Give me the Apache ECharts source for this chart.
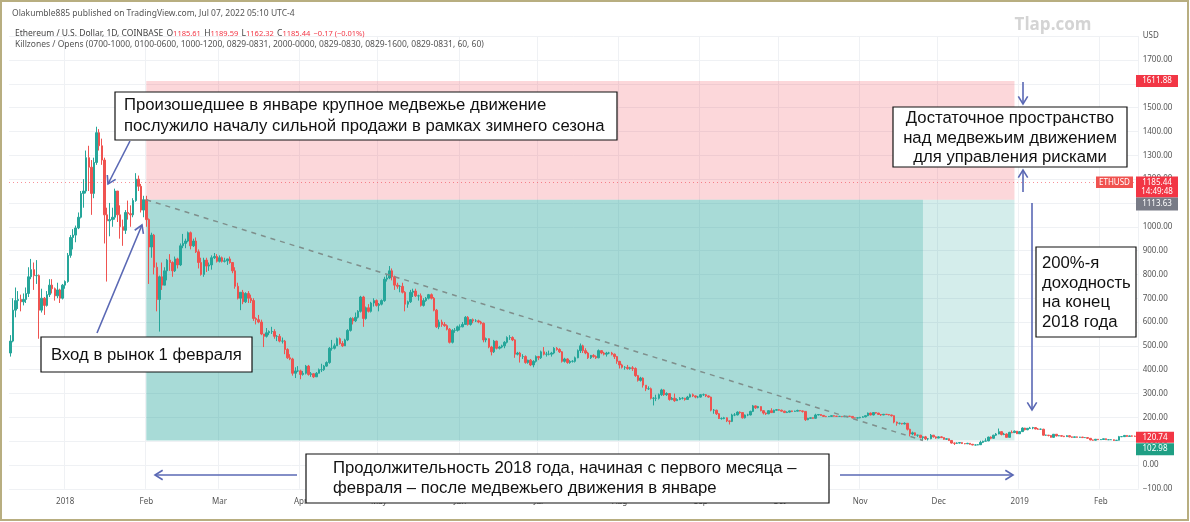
<!DOCTYPE html>
<html><head><meta charset="utf-8">
<script src="https://cdn.jsdelivr.net/npm/echarts@6/dist/echarts.min.js"></script>
<style>html,body{margin:0;padding:0;background:#fff}#c{width:1190px;height:522px}</style>
</head><body><div id="c"></div>
<script>
// ETH/USD daily candles, [open, close, low, high]
const startDate = [2017, 11, 11]; // 11 Dec 2017
const dec2017 = [[470,520,455,545],[520,650,515,700],[650,690,620,745],[690,695,655,730],[695,685,645,715],[685,695,670,720],[695,720,680,745],[720,790,705,830],[790,820,780,865],[820,795,735,850],[795,795,760,860],[795,650,530,800],[650,700,640,740],[700,670,630,705],[670,715,665,730],[715,755,705,780],[755,740,720,780],[740,710,690,745],[710,735,700,765],[735,700,680,740],[700,755,695,760]];
const jan2018 = [[755,770,740,775],[770,880,765,890],[880,955,870,965],[955,965,905,990],[965,995,935,1005],[995,1040,990,1060],[1040,1140,1035,1150],[1140,1150,1080,1200],[1150,1290,1140,1320],[1290,1250,1150,1340],[1250,1140,1050,1280],[1140,1270,1120,1290],[1270,1395,1260,1420],[1395,1340,1320,1410],[1340,1280,1260,1370],[1280,1050,930,1290],[1050,1025,770,1080],[1025,1030,960,1100],[1030,1040,1000,1080],[1040,1150,1030,1160],[1150,1050,1020,1150],[1050,1000,950,1090],[1000,985,920,1030],[985,1060,970,1070],[1060,1055,1030,1110],[1055,1050,1000,1090],[1050,1110,1040,1120],[1110,1200,1105,1225],[1200,1170,1150,1215],[1170,1070,1060,1180],[1070,1113.63,1040,1130]];
const feb2018 = [[1113.63,1030,1000,1130],[1030,915,760,1035],[915,965,870,975],[965,830,800,970],[830,695,645,850],[695,790,560,795],[790,755,735,850],[755,815,755,830],[815,860,775,865],[860,850,815,885],[850,815,790,855],[815,865,810,875],[865,840,825,870],[840,920,835,930],[920,930,910,970],[930,940,910,950],[940,975,935,980],[975,920,905,980],[920,940,915,950],[940,895,890,955],[895,850,825,905],[850,800,795,870],[800,860,790,870],[860,835,810,870],[835,840,815,850],[840,870,820,880],[870,875,865,890],[875,855,850,885]];
const mar2018 = [[855,870,850,880],[870,855,850,875],[855,857,850,870],[857,865,840,866],[865,850,845,875],[850,815,805,850],[815,750,740,830],[750,700,695,765],[700,725,650,725],[725,685,675,735],[685,720,680,725],[720,700,680,730],[700,690,680,715],[690,615,605,700],[615,610,590,620],[610,600,595,630],[600,550,545,610],[550,540,495,550],[540,555,535,575],[555,560,545,565],[560,560,550,580],[560,540,530,570],[540,540,520,545],[540,520,515,550],[520,520,510,535],[520,485,465,525],[485,450,445,490],[450,445,440,465],[445,385,375,450],[385,395,365,410],[395,395,390,415]];
const apr2018 = [[395,380,360,400],[380,385,375,395],[385,415,380,420],[415,380,375,420],[380,383,370,390],[383,370,365,385],[370,385,370,390],[385,400,385,405],[400,400,390,425],[400,415,395,420],[415,430,412,435],[430,490,425,495],[490,490,480,525],[490,500,485,510],[500,530,500,535],[530,510,505,535],[510,500,495,520],[500,525,500,530],[525,565,520,570],[565,615,560,620],[615,605,590,620],[605,620,600,640],[620,645,615,650],[645,705,640,710],[705,615,580,710],[615,660,610,665],[660,645,640,675],[645,680,640,685],[680,690,665,700],[690,670,665,695]];
const may2018 = [[670,675,645,680],[675,690,670,695],[690,780,685,790],[780,785,770,800],[785,815,780,835],[815,790,775,825],[790,755,735,795],[755,750,740,765],[750,750,725,755],[750,725,720,765],[725,675,645,730],[675,685,660,690],[685,725,680,735],[725,730,705,740],[730,710,705,740],[710,710,690,715],[710,670,665,720],[670,690,665,700],[690,700,685,705],[700,715,695,718],[715,700,695,720],[700,650,645,705],[650,580,575,655],[580,600,570,610],[600,590,580,610],[590,585,580,600],[585,570,565,590],[570,515,510,575],[515,565,510,570],[565,565,555,575],[565,580,560,585]];
const jun2018 = [[580,580,565,590],[580,590,578,600],[590,620,588,625],[620,590,585,625],[590,610,585,612],[610,605,595,615],[605,605,600,612],[605,600,595,610],[600,595,590,605],[595,525,515,598],[525,530,515,535],[530,495,490,532],[495,475,460,500],[475,520,470,525],[520,490,485,522],[490,495,485,500],[495,500,490,505],[500,515,490,520],[515,535,510,540],[535,535,525,545],[535,525,520,540],[525,465,450,528],[465,470,460,475],[470,455,430,475],[455,455,445,465],[455,430,425,460],[430,440,425,442],[440,420,415,445],[420,435,410,440],[435,455,430,460]];
const jul2018 = [[455,450,440,458],[450,475,445,480],[475,465,460,495],[465,465,455,475],[465,465,460,480],[465,470,455,475],[470,490,465,495],[490,485,480,495],[485,475,470,490],[475,435,430,478],[435,445,430,450],[445,430,425,448],[430,435,425,440],[435,435,430,440],[435,450,430,455],[450,480,448,485],[480,500,470,510],[500,480,470,505],[480,470,465,490],[470,450,445,475],[450,460,445,462],[460,455,450,465],[455,450,445,460],[450,480,448,485],[480,470,465,482],[470,465,460,475],[465,470,455,475],[470,470,465,475],[470,465,460,475],[465,455,445,468],[455,435,425,458]];
const aug2018 = [[435,420,405,437],[420,410,405,425],[410,410,400,415],[410,405,400,420],[405,408,400,412],[408,405,395,415],[405,375,370,410],[375,355,350,378],[355,365,350,370],[365,335,325,368],[335,320,310,335],[320,320,315,330],[320,280,275,325],[280,280,250,285],[280,280,268,295],[280,295,275,300],[295,315,290,320],[315,295,290,318],[295,300,290,305],[300,275,270,302],[275,280,272,285],[280,270,265,300],[270,275,270,280],[275,280,272,285],[280,280,275,285],[280,275,270,282],[275,285,275,290],[285,295,283,300],[295,290,285,300],[290,285,280,292],[285,285,280,290]];
const sep2018 = [[285,295,283,298],[295,295,290,300],[295,290,285,298],[290,285,282,292],[285,230,225,287],[230,230,215,235],[230,215,210,232],[215,195,193,218],[195,195,190,200],[195,198,192,202],[198,185,180,200],[185,183,170,187],[183,210,180,215],[210,210,205,218],[210,222,208,225],[222,220,215,225],[220,198,195,222],[198,210,195,212],[210,210,205,215],[210,225,208,228],[225,248,222,252],[248,240,235,250],[240,245,238,248],[245,228,225,246],[228,218,212,230],[218,215,210,220],[215,228,213,230],[228,220,218,238],[220,230,218,232],[230,232,228,235]];
const oct2018 = [[232,230,228,235],[230,226,224,232],[226,220,218,228],[220,222,218,225],[222,227,220,228],[227,225,222,228],[225,226,223,228],[226,229,225,232],[229,227,225,230],[227,225,220,228],[225,190,185,226],[190,196,188,198],[196,198,194,199],[198,196,194,199],[196,210,194,215],[210,212,208,214],[212,208,206,213],[208,204,202,210],[204,203,201,206],[203,204,202,205],[204,207,203,208],[207,205,203,208],[205,204,202,206],[204,204,202,206],[204,203,201,205],[203,203,201,204],[203,205,202,206],[205,204,202,206],[204,198,195,205],[198,197,196,199],[197,198,195,200]];
const nov2018 = [[198,200,196,202],[200,202,199,205],[202,207,200,208],[207,218,205,220],[218,210,208,220],[210,220,208,222],[220,218,215,222],[218,212,210,219],[212,210,206,214],[210,213,209,214],[213,212,210,214],[212,210,208,214],[210,207,203,211],[207,180,175,208],[180,175,165,182],[175,175,170,178],[175,172,170,176],[172,175,171,179],[175,150,145,176],[150,130,120,152],[130,135,125,140],[135,125,123,137],[125,125,118,127],[125,115,112,126],[115,118,105,120],[118,110,105,122],[110,110,103,113],[110,125,108,130],[125,118,115,126],[118,113,110,120]];
const dec2018 = [[113,118,112,120],[118,115,113,120],[115,108,106,116],[108,110,105,112],[110,103,101,111],[103,92,90,104],[92,91,84,94],[91,92,88,95],[92,94,90,96],[94,90,88,95],[90,89,87,91],[89,91,88,93],[91,87,85,92],[87,84,83,88],[84,84,82,86],[84,85,83,88],[85,95,84,102],[95,100,92,102],[100,101,99,112],[101,117,100,119],[117,112,108,120],[112,125,110,127],[125,130,122,134],[130,140,129,153],[140,128,124,141],[128,130,125,135],[130,116,115,133],[116,137,115,139],[137,136,133,145],[136,142,134,145],[142,131,130,142]];
const jan2019 = [[131,140,130,142],[140,155,139,158],[155,148,145,156],[148,154,146,155],[154,155,152,160],[155,157,150,160],[157,151,150,158],[151,150,148,155],[150,150,148,153],[150,125,123,152],[125,125,122,127],[125,124,120,126],[124,116,115,125],[116,129,115,130],[129,122,120,130],[122,123,121,125],[123,121,119,124],[121,119,117,122],[119,123,118,125],[123,118,116,124],[118,116,114,119],[116,118,115,119],[118,116,115,119],[116,117,115,118],[117,115,114,118],[115,115,114,117],[115,112,110,116],[112,105,104,113],[105,104,102,106],[104,108,103,109],[108,106,105,109]];
const feb2019 = [[106,107,105,108],[107,110,106,111],[110,106,105,111],[106,106,105,107],[106,106,105,108],[106,103,101,107],[103,104,102,105],[104,119,103,122],[119,119,117,120],[119,124,118,126],[124,120,118,125],[120,122,119,124],[122,121,119,124],[121,120,119,123]];

// levels drawn on the chart
const stopLevel = 1611.88, entryLevel = 1113.63, lastPrice = 1185.44, level1 = 120.74, level2 = 102.98;
const entryDate = '2018-02-01', zoneDarkEnd = '2018-11-25', zoneEnd = '2018-12-30';
const monthNames = ['Jan','Feb','Mar','Apr','May','Jun','Jul','Aug','Sep','Oct','Nov','Dec'];

const candles = [].concat(dec2017, jan2018, feb2018, mar2018, apr2018, may2018, jun2018, jul2018, aug2018, sep2018, oct2018, nov2018, dec2018, jan2019, feb2019);
const cats = [];
{ let d = new Date(Date.UTC(startDate[0], startDate[1], startDate[2]));
  for (let i = 0; i < candles.length + 1; i++) { cats.push(d.toISOString().slice(0,10)); d.setUTCDate(d.getUTCDate()+1); } }

const UP = '#26a69a', DOWN = '#ef5350';
const chart = echarts.init(document.getElementById('c'), null, {renderer:'canvas'});
const isMonth = (i, v) => v.slice(8) === '01';
chart.setOption({
  animation: false,
  grid: {left: 9, right: 51.3, top: 36.2, bottom: 33.2},
  xAxis: {
    type: 'category', data: cats, boundaryGap: true,
    axisLine: {show: false}, axisTick: {show: false},
    axisLabel: {interval: isMonth, margin: 9, fontSize: 8, color: '#555', fontFamily: 'Noto Sans',
      formatter: v => { const m = +v.slice(5,7); return m === 1 ? v.slice(0,4) : monthNames[m-1]; }},
    splitLine: {show: true, interval: isMonth, lineStyle: {color: '#eff1f4', width: 1}}
  },
  yAxis: {
    type: 'value', position: 'right', min: -100, max: 1800, interval: 100, scale: false,
    axisLine: {show: false}, axisTick: {show: false},
    axisLabel: {margin: 4, fontSize: 8, color: '#555', fontFamily: 'Noto Sans',
      formatter: v => v === 1800 ? 'USD' : (v < 0 ? '−' + Math.abs(v).toFixed(2) : v.toFixed(2))},
    splitLine: {lineStyle: {color: '#eff1f4', width: 1}}
  },
  series: [{
    type: 'candlestick', data: candles, barWidth: 2,
    itemStyle: {color: UP, color0: DOWN, borderColor: UP, borderColor0: DOWN, borderWidth: 1},
    markArea: {silent: true, data: [
      [{coord: [entryDate, stopLevel], itemStyle: {color: 'rgba(242,54,69,0.2)'}}, {coord: [zoneEnd, entryLevel]}],
      [{coord: [entryDate, entryLevel], itemStyle: {color: 'rgba(38,166,154,0.4)'}}, {coord: [zoneDarkEnd, level2]}],
      [{coord: [zoneDarkEnd, entryLevel], itemStyle: {color: 'rgba(38,166,154,0.2)'}}, {coord: [zoneEnd, level2]}]
    ]},
    markLine: {silent: true, symbol: 'none', label: {show: false}, data: [
      [{coord: [entryDate, entryLevel], lineStyle: {color: '#7f8f8c', type: [5,5], width: 1.5}}, {coord: [zoneDarkEnd, level2]}],
      {yAxis: lastPrice, lineStyle: {color: 'rgba(242,54,69,0.55)', type: [1,3], width: 1}}
    ]}
  }]
});

const Y = v => chart.convertToPixel({yAxisIndex: 0}, v);
const col = '#5a68b4';
const G = [];
const z = 100;
const FONT = '16.7px "Liberation Sans", Arial, sans-serif';
function arrow(x1, y1, x2, y2) {
  const a = Math.atan2(y2-y1, x2-x1), L = 9, s = 0.55;
  G.push({type:'line', z, shape:{x1,y1,x2,y2}, style:{stroke:col, lineWidth:1.6}});
  G.push({type:'polyline', z, shape:{points:[[x2-L*Math.cos(a-s), y2-L*Math.sin(a-s)],[x2,y2],[x2-L*Math.cos(a+s), y2-L*Math.sin(a+s)]]}, style:{stroke:col, lineWidth:1.6, fill:null}});
}
function box(x, y, w, h) {
  G.push({type:'rect', z, shape:{x, y, width:w, height:h}, style:{fill:'#fff', stroke:'#111', lineWidth:1.2}});
}
function txt(x, y, text, align) {
  G.push({type:'text', z: z+1, x, y, style:{text, fill:'#111', font: FONT, align: align || 'left', verticalAlign:'middle'}});
}
function priceBox(x, y, w, h, fill, lines) {
  G.push({type:'rect', z, shape:{x, y, width:w, height:h}, style:{fill}});
  lines.forEach((t, i) => G.push({type:'text', z: z+1, x: x + w/2, y: y + 6 + i*9.5, style:{text:t, fill:'#fff', font:'8px "Noto Sans", sans-serif', align:'center', verticalAlign:'middle'}}));
}

// frame and header
G.push({type:'rect', z, shape:{x:1, y:1, width:1187, height:519}, style:{fill:null, stroke:'#b8ae80', lineWidth:2}});
G.push({type:'text', z, x:12, y:14, style:{text:'Olakumble885 published on TradingView.com, Jul 07, 2022 05:10 UTC-4', fill:'#555', font:'8.5px "Noto Sans", sans-serif', verticalAlign:'middle'}});
G.push({type:'text', z, x:15, y:34, style:{
  text:'{a|Ethereum / U.S. Dollar, 1D, COINBASE} {a|O}{r|1185.61} {a|H}{r|1189.59} {a|L}{r|1162.32} {a|C}{r|1185.44} {r|−0.17 (−0.01%)}',
  verticalAlign:'middle', rich:{a:{fill:'#444', font:'8.5px "Noto Sans", sans-serif'}, r:{fill:'#f23645', font:'7.5px "Noto Sans", sans-serif'}}}});
G.push({type:'text', z, x:15, y:45, style:{text:'Killzones / Opens (0700-1000, 0100-0600, 1000-1200, 0829-0831, 2000-0000, 0829-0830, 0829-1600, 0829-0831, 60, 60)', fill:'#555', font:'8.5px "Noto Sans", sans-serif', verticalAlign:'middle'}});
G.push({type:'text', z, x:1053, y:25, style:{text:'Tlap.com', fill:'#d4d4d4', font:'bold 17px "Open Sans", sans-serif', align:'center', verticalAlign:'middle'}});

// price labels on the scale
const yStop = Y(stopLevel), yLast = Y(lastPrice), yEntry = Y(entryLevel), yL1 = Y(level1), yL2 = Y(level2);
priceBox(1136, yStop - 6, 42, 12, '#f23645', [stopLevel.toFixed(2)]);
priceBox(1096, yLast - 6, 37, 11.5, '#f0524f', ['ETHUSD']);
priceBox(1136, yLast - 6, 42, 21, '#f23645', [lastPrice.toFixed(2), '14:49:48']);
const eTop = Math.max(yEntry - 6, yLast + 15);
priceBox(1136, eTop, 42, 13, '#787b86', [entryLevel.toFixed(2)]);
priceBox(1136, yL1 - 4.5, 38, 11, '#f23645', [level1.toFixed(2)]);
priceBox(1136, Math.max(yL2 - 6, yL1 + 7), 38, 12, '#1f9f84', [level2.toFixed(2)]);

// annotations
box(115, 92, 502, 48);
txt(124, 105, 'Произошедшее в январе крупное медвежье движение');
txt(124, 126, 'послужило началу сильной продажи в рамках зимнего сезона');
box(41, 337, 211, 35);
txt(51, 355, 'Вход в рынок 1 февраля');
box(893, 107, 234, 60);
txt(1010, 118, 'Достаточное пространство', 'center');
txt(1010, 138, 'над медвежьим движением', 'center');
txt(1010, 157, 'для управления рисками', 'center');
box(1036, 247, 100, 90);
txt(1042, 263, '200%-я');
txt(1042, 283, 'доходность');
txt(1042, 302, 'на конец');
txt(1042, 322, '2018 года');
box(306, 454, 523, 49);
txt(333, 468, 'Продолжительность 2018 года, начиная с первого месяца –');
txt(333, 488, 'февраля – после медвежьего движения в январе');

arrow(130, 141, 108, 184);
arrow(97, 333, 142, 225);
arrow(1023, 82, 1023, 104);
arrow(1023, 192, 1023, 170);
arrow(1032, 203, 1032, 410);
arrow(297, 475, 155, 475);
arrow(840, 475, 1013, 475);

chart.setOption({graphic: {elements: G}});
</script></body></html>
